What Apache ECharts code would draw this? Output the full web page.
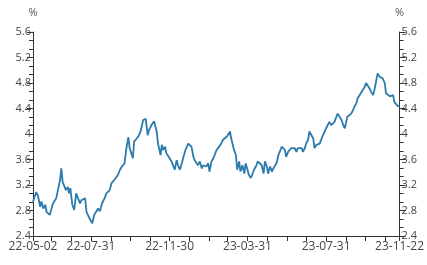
<!DOCTYPE html>
<html>
<head>
<meta charset="utf-8">
<script src="https://cdn.jsdelivr.net/npm/echarts@6/dist/echarts.min.js"></script>
<style>
html,body{margin:0;padding:0;background:#fff;}
#chart{width:427px;height:265px;}
</style>
</head>
<body>
<div id="chart"></div>
<script>
// Axis range / labels
const startDate = '2022-05-02';
const endDate = '2023-11-22';
const xLabelDates = ['22-05-02', '22-07-31', '22-11-30', '23-03-31', '23-07-31', '23-11-22'];
const yMin = 2.4, yMax = 5.6, yStep = 0.4;

const obsDates = [
'22-05-02','22-05-07','22-05-10','22-05-13','22-05-15','22-05-18','22-05-21','22-05-23','22-05-26','22-05-28',
'22-05-31','22-06-02','22-06-07','22-06-09','22-06-13','22-06-15','22-06-17','22-06-20','22-06-22','22-06-25',
'22-06-27','22-06-29','22-07-02','22-07-05','22-07-08','22-07-11','22-07-14','22-07-16','22-07-19','22-07-22',
'22-07-24','22-07-27','22-07-30','22-08-02','22-08-05','22-08-08','22-08-11','22-08-14','22-08-17','22-08-21',
'22-08-24','22-08-27','22-08-29','22-09-01','22-09-04','22-09-06','22-09-09','22-09-11','22-09-14','22-09-17',
'22-09-21','22-09-24','22-09-27','22-09-29','22-10-01','22-10-04','22-10-06','22-10-10','22-10-13','22-10-16',
'22-10-20','22-10-24','22-10-27','22-10-29','22-11-02','22-11-06','22-11-10','22-11-12','22-11-15','22-11-16',
'22-11-18','22-11-20','22-11-23','22-11-25','22-11-28','22-11-30','22-12-03','22-12-06','22-12-08','22-12-11',
'22-12-13','22-12-16','22-12-19','22-12-21','22-12-25','22-12-29','22-12-31','23-01-03','23-01-06','23-01-08',
'23-01-11','23-01-13','23-01-16','23-01-19','23-01-21','23-01-24','23-01-26','23-01-29','23-01-31','23-02-03',
'23-02-06','23-02-08','23-02-11','23-02-14','23-02-17','23-02-21','23-02-24','23-02-27','23-03-01','23-03-04',
'23-03-05','23-03-08','23-03-10','23-03-13','23-03-15','23-03-18','23-03-20','23-03-23','23-03-26','23-03-28',
'23-03-31','23-04-02','23-04-05','23-04-08','23-04-10','23-04-13','23-04-16','23-04-19','23-04-22','23-04-25',
'23-04-27','23-04-30','23-05-02','23-05-05','23-05-08','23-05-10','23-05-13','23-05-15','23-05-18','23-05-20',
'23-05-23','23-05-25','23-05-28','23-05-30','23-06-02','23-06-04','23-06-07','23-06-10','23-06-12','23-06-15',
'23-06-17','23-06-20','23-06-23','23-06-25','23-06-28','23-06-30','23-07-03','23-07-05','23-07-08','23-07-11',
'23-07-13','23-07-16','23-07-18','23-07-21','23-07-24','23-07-26','23-07-29','23-07-31','23-08-03','23-08-05',
'23-08-08','23-08-11','23-08-13','23-08-16','23-08-18','23-08-21','23-08-24','23-08-27','23-08-29','23-09-02',
'23-09-05','23-09-08','23-09-11','23-09-13','23-09-16','23-09-18','23-09-21','23-09-24','23-09-26','23-09-29',
'23-10-01','23-10-04','23-10-06','23-10-09','23-10-12','23-10-14','23-10-17','23-10-19','23-10-22','23-10-25',
'23-10-27','23-10-30','23-11-01','23-11-04','23-11-07','23-11-09','23-11-12','23-11-14','23-11-17','23-11-19',
'23-11-22'
];
const obsValues = [
2.94,3.09,3.02,2.86,2.94,2.83,2.89,2.78,2.81,2.73,
2.76,2.91,2.99,2.96,3.28,3.46,3.25,3.28,3.12,3.17,
3.07,3.15,2.89,2.81,3.07,2.99,2.91,2.96,2.94,2.99,
2.78,2.78,2.65,2.60,2.73,2.78,2.83,2.79,2.91,2.99,
3.07,3.05,3.12,3.23,3.21,3.29,3.31,3.36,3.44,3.49,
3.54,3.78,3.95,3.78,3.80,3.62,3.88,3.93,3.97,4.04,
4.22,4.24,3.98,4.06,4.14,4.20,4.04,3.85,3.83,3.67,
3.83,3.75,3.80,3.70,3.72,3.62,3.57,3.59,3.44,3.59,
3.51,3.44,3.54,3.62,3.76,3.85,3.85,3.80,3.64,3.59,
3.62,3.51,3.57,3.46,3.51,3.51,3.49,3.54,3.41,3.57,
3.62,3.67,3.75,3.78,3.83,3.91,3.91,3.96,3.98,4.04,
3.96,3.93,3.75,3.67,3.44,3.57,3.41,3.51,3.38,3.54,
3.44,3.36,3.31,3.38,3.44,3.49,3.57,3.54,3.51,3.38,
3.57,3.49,3.38,3.49,3.41,3.46,3.46,3.54,3.67,3.72,
3.80,3.80,3.75,3.64,3.72,3.70,3.78,3.75,3.78,3.72,
3.78,3.75,3.78,3.72,3.78,3.85,3.91,4.04,4.04,3.93,
3.78,3.83,3.80,3.85,3.88,3.98,3.96,4.09,4.06,4.19,
4.14,4.17,4.19,4.27,4.32,4.32,4.22,4.13,4.09,4.27,
4.30,4.32,4.38,4.43,4.48,4.56,4.59,4.66,4.64,4.74,
4.80,4.77,4.72,4.66,4.61,4.69,4.85,4.95,4.90,4.93,
4.87,4.80,4.64,4.66,4.59,4.56,4.61,4.50,4.52,4.44,
4.43
];

// Build daily calendar categories for the axis
function pad(n){ return n < 10 ? '0' + n : '' + n; }
const categories = [];
const monthEnd = new Set();
{
  let d = new Date(startDate + 'T00:00:00Z');
  const e = new Date(endDate + 'T00:00:00Z');
  while (d <= e) {
    const s = pad(d.getUTCFullYear() % 100) + '-' + pad(d.getUTCMonth() + 1) + '-' + pad(d.getUTCDate());
    categories.push(s);
    const n = new Date(d.getTime() + 86400000);
    if (n.getUTCMonth() !== d.getUTCMonth()) monthEnd.add(s);
    d = n;
  }
}
const valueByDate = {};
obsDates.forEach((dt, i) => { valueByDate[dt] = obsValues[i]; });
const seriesData = categories.map(c => (c in valueByDate ? valueByDate[c] : null));
const lastIdx = categories.length - 1;

const axisColor = '#333';
const labelColor = '#454545';
const font = '"Open Sans", "DejaVu Sans", sans-serif';

function yAxisCfg(pos) {
  return {
    type: 'value', position: pos, min: yMin, max: yMax, interval: yStep,
    name: '%', nameLocation: 'end', nameGap: 14,
    nameTextStyle: { color: '#555', fontSize: 11, fontFamily: font, align: 'center' },
    axisLine: { show: true, lineStyle: { color: axisColor, width: 1 } },
    axisTick: { show: true, length: 6, lineStyle: { color: axisColor } },
    minorTick: { show: true, splitNumber: 3, length: 4, lineStyle: { color: axisColor } },
    axisLabel: { color: labelColor, fontSize: 11, fontFamily: font, margin: 2 },
    splitLine: { show: false }
  };
}

const chart = echarts.init(document.getElementById('chart'), null, { renderer: 'canvas' });
chart.setOption({
  animation: false,
  grid: { left: 33, right: 27, top: 32, bottom: 29, containLabel: false },
  xAxis: {
    type: 'category', data: categories, boundaryGap: false,
    axisLine: { show: true, lineStyle: { color: axisColor, width: 1 } },
    axisTick: {
      show: true, length: 5, lineStyle: { color: axisColor },
      interval: (i, v) => i === 0 || i === lastIdx || monthEnd.has(v)
    },
    axisLabel: {
      color: labelColor, fontSize: 12, fontFamily: font, margin: 5,
      interval: (i, v) => xLabelDates.indexOf(v) >= 0
    },
    splitLine: { show: false }
  },
  yAxis: [yAxisCfg('left'), yAxisCfg('right')],
  series: [{
    type: 'line', data: seriesData, connectNulls: true, showSymbol: false, symbol: 'none',
    lineStyle: { color: '#2b7bad', width: 1.8 }, yAxisIndex: 0
  }]
});
</script>
</body>
</html>
